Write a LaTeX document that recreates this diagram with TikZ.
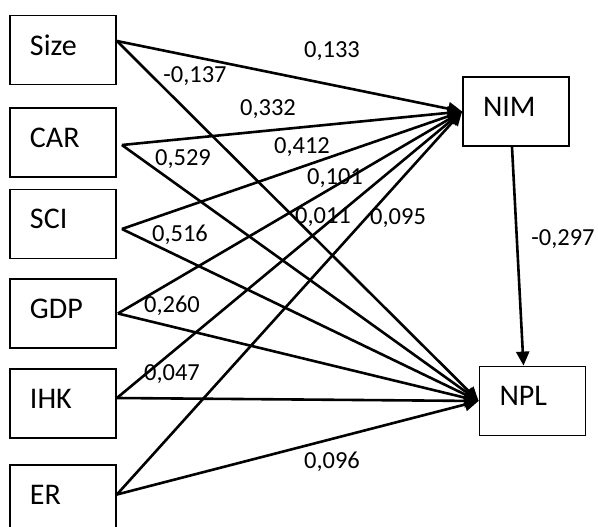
\documentclass[tikz,border=0pt]{standalone}
\usepackage{fontspec}
\setmainfont{Carlito}
\usetikzlibrary{arrows.meta,positioning}

\begin{document}
\begin{tikzpicture}[x=1pt, y=-1pt, on grid, >={Triangle[length=14pt,width=13pt]},
var/.style={draw, line width=1.8pt, minimum height=69pt, text width=66pt,
  inner xsep=20pt, inner ysep=0pt, align=left, text depth=9.5pt,
  font=\fontsize{30}{32}\selectfont},
coef/.style={font=\fontsize{24.5}{26}\selectfont, inner sep=0pt}]
\useasboundingbox (0,0) rectangle (598,527);

\node [var] (Size) at (63,50) {Size};
\node [var] (CAR) [below = 92.5pt of Size] {CAR};
\node [var] (SCI) [below = 81.5pt of CAR] {SCI};
\node [var] (GDP) [below = 89.5pt of SCI] {GDP};
\node [var] (IHK) [below = 90pt of GDP] {IHK};
\node [var] (ER) [below = 96pt of IHK] {ER};
\node [var] (NIM) at (516,111.5) {NIM};
\node [var] (NPL) [below right = 289.5pt and 16.5pt of NIM] {NPL};

\path [->, line width=2.6pt]
([yshift=9pt]Size.east) edge (NIM.west)
edge (NPL.west)

([xshift=5pt,yshift=-2.5pt]CAR.east) edge (NIM.west)
edge (NPL.west)

([xshift=5pt,yshift=-5pt]SCI.east) edge (NIM.west)
edge (NPL.west)

([xshift=1pt]GDP.east) edge (NIM.west)
edge (NPL.west)

([yshift=5.5pt]IHK.east) edge (NIM.west)
edge (NPL.west)

([yshift=5pt]ER.east) edge (NIM.west)
edge (NPL.west)

([xshift=-4pt]NIM.south) edge ([xshift=-9pt]NPL.north);

\node [coef] (w1) at (332,51) {0,133};
\node [coef] (w2) at (195,76) {-0,137};
\node [coef] (w3) at (268,109) {0,332};
\node [coef] (w4) at (183,159) {0,529};
\node [coef] (w5) at (302,147) {0,412};
\node [coef] (w6) at (335,178) {0,101};
\node [coef] (w7) at (323,217) {0,011};
\node [coef] (w8) at (398,218) {0,095};
\node [coef] (w9) at (180,235) {0,516};
\node [coef] (w10) at (172,306) {0,260};
\node [coef] (w11) at (172,374) {0,047};
\node [coef] (w12) at (332,462) {0,096};
\node [coef] (w13) at (563,239) {-0,297};

\end{tikzpicture}
\end{document}
